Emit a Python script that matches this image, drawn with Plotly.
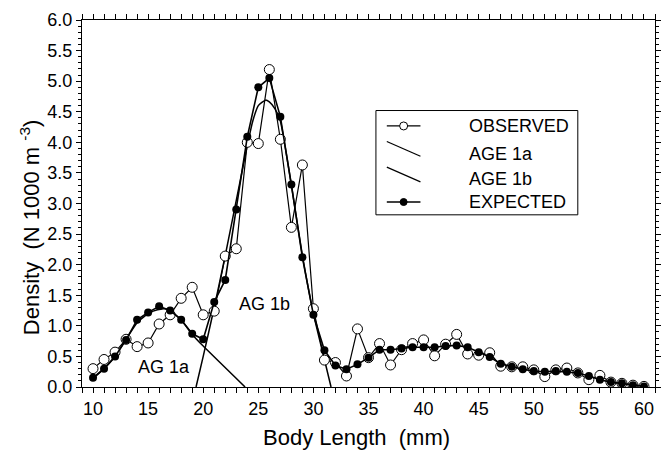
import plotly.graph_objects as go

# ---------------- data ----------------
length_mm = list(range(10, 61))
observed = [0.30, 0.45, 0.57, 0.78, 0.66, 0.72, 1.03, 1.18, 1.45, 1.63,
            1.18, 1.24, 2.14, 2.26, 4.00, 3.98, 5.19, 4.05, 2.61, 3.63,
            1.28, 0.44, 0.40, 0.18, 0.95, 0.48, 0.71, 0.36, 0.61, 0.71,
            0.77, 0.51, 0.70, 0.86, 0.54, 0.52, 0.56, 0.34, 0.33, 0.33,
            0.28, 0.17, 0.28, 0.31, 0.23, 0.12, 0.19, 0.08, 0.06, 0.03,
            0.01]
expected = [0.15, 0.30, 0.50, 0.77, 1.10, 1.22, 1.32, 1.25, 1.10, 0.87,
            0.78, 1.39, 1.75, 2.90, 4.09, 4.90, 5.05, 4.42, 3.31, 2.12,
            1.18, 0.60, 0.35, 0.29, 0.37, 0.48, 0.61, 0.61, 0.63, 0.65,
            0.65, 0.65, 0.67, 0.68, 0.65, 0.57, 0.49, 0.38, 0.33, 0.29,
            0.26, 0.25, 0.26, 0.25, 0.23, 0.18, 0.12, 0.08, 0.06, 0.03,
            0.01]
age1a_x = [10, 11, 12, 13, 14, 15, 16, 16.5, 17, 18, 19, 20, 23.8]
age1a_y = [0.14, 0.30, 0.50, 0.78, 1.05, 1.20, 1.27, 1.28, 1.25, 1.10, 0.86, 0.67, 0.0]
age1b_x = [19.35, 20, 21, 22, 23, 24, 24.5, 25, 25.65, 26, 26.5, 27, 28, 29, 30, 31, 31.6]
age1b_y = [0.0, 0.5, 1.3, 2.15, 3.05, 3.95, 4.35, 4.6, 4.69, 4.66, 4.55, 4.35, 3.3, 2.15, 1.2, 0.45, 0.0]

legend_labels = ["OBSERVED", "AGE 1a", "AGE 1b", "EXPECTED"]
curve_labels = [("AG 1a", 16.4, 0.32), ("AG 1b", 25.6, 1.35)]
x_title = "Body Length&nbsp;&nbsp;(mm)"
y_title = "Density&nbsp;&nbsp;(N 1000 m <sup>-3</sup>)"

# ---------------- layout geometry ----------------
W, H = 671, 456
ML, MR, MT, MB = 82, 10, 14, 69
PW, PH = W - ML - MR, H - MT - MB
FONT = "Arial, Liberation Sans, sans-serif"


def px(xp):
    return (xp - ML) / PW


def py(yp):
    return (H - MB - yp) / PH


fig = go.Figure()

fig.add_trace(go.Scatter(x=age1a_x, y=age1a_y, mode="lines", line=dict(color="black", width=1.5, shape="spline", smoothing=0.5), showlegend=False))
fig.add_trace(go.Scatter(x=age1b_x, y=age1b_y, mode="lines", line=dict(color="black", width=1.5, shape="spline", smoothing=0.5), showlegend=False))
fig.add_trace(go.Scatter(x=length_mm, y=observed, mode="lines+markers",
                         line=dict(color="black", width=1.2),
                         marker=dict(symbol="circle", size=10, color="white", line=dict(color="black", width=1)),
                         showlegend=False))
fig.add_trace(go.Scatter(x=length_mm, y=expected, mode="lines+markers",
                         line=dict(color="black", width=1.6),
                         marker=dict(symbol="circle", size=8, color="black"),
                         showlegend=False))

for txt, cx, cy in curve_labels:
    fig.add_annotation(x=cx, y=cy, text=txt, showarrow=False, font=dict(family=FONT, size=18, color="black"))

# axis titles
fig.add_annotation(xref="paper", yref="paper", x=px(359), y=py(438), text=x_title, showarrow=False,
                   xanchor="center", yanchor="middle", font=dict(family=FONT, size=22, color="black"))
fig.add_annotation(xref="paper", yref="paper", x=px(29), y=py(225), text=y_title, showarrow=False, textangle=-90,
                   xanchor="center", yanchor="middle", font=dict(family=FONT, size=22, color="black"))

# ---------------- custom legend ----------------
shapes = [dict(type="rect", xref="paper", yref="paper", x0=px(379), x1=px(583), y0=py(212), y1=py(106),
               line=dict(color="black", width=1), fillcolor="white", layer="above")]
rows_y = [121.7, 150, 176, 199]
shapes.append(dict(type="line", xref="paper", yref="paper", x0=px(390), x1=px(424), y0=py(rows_y[0]), y1=py(rows_y[0]), line=dict(color="black", width=1.2)))
shapes.append(dict(type="circle", xref="paper", yref="paper", xsizemode="pixel", ysizemode="pixel",
                   xanchor=px(407), yanchor=py(rows_y[0]), x0=-4, x1=4, y0=-4, y1=4,
                   line=dict(color="black", width=1), fillcolor="white"))
shapes.append(dict(type="line", xref="paper", yref="paper", x0=px(390), x1=px(424), y0=py(137.5), y1=py(152.5), line=dict(color="black", width=1.2)))
shapes.append(dict(type="line", xref="paper", yref="paper", x0=px(390), x1=px(424), y0=py(163.5), y1=py(178.5), line=dict(color="black", width=1.2)))
shapes.append(dict(type="line", xref="paper", yref="paper", x0=px(390), x1=px(424), y0=py(rows_y[3]), y1=py(rows_y[3]), line=dict(color="black", width=1.6)))
shapes.append(dict(type="circle", xref="paper", yref="paper", xsizemode="pixel", ysizemode="pixel",
                   xanchor=px(407), yanchor=py(rows_y[3]), x0=-3.5, x1=3.5, y0=-3.5, y1=3.5,
                   line=dict(color="black", width=1), fillcolor="black"))
for lab, ry in zip(legend_labels, rows_y):
    fig.add_annotation(xref="paper", yref="paper", x=px(471), y=py(ry), text=lab, showarrow=False,
                       xanchor="left", yanchor="middle", font=dict(family=FONT, size=18, color="black"))

fig.update_layout(
    width=W, height=H, margin=dict(l=ML, r=MR, t=MT, b=MB),
    paper_bgcolor="white", plot_bgcolor="white",
    font=dict(family=FONT, color="black"),
    shapes=shapes,
    xaxis=dict(range=[9, 61], tickmode="linear", tick0=10, dtick=5,
               ticks="outside", ticklen=5, tickwidth=1, tickcolor="black",
               minor=dict(tickmode="linear", tick0=9, dtick=1, ticks="outside", ticklen=5, tickwidth=1, tickcolor="black"),
               showline=True, linecolor="black", linewidth=1, mirror="allticks",
               showgrid=False, zeroline=False, tickfont=dict(size=18)),
    yaxis=dict(range=[0, 6], tickmode="linear", tick0=0, dtick=0.5, tickformat=".1f",
               ticks="outside", ticklen=5, tickwidth=1, tickcolor="black",
               minor=dict(tickmode="linear", tick0=0, dtick=0.1, ticks="outside", ticklen=3, tickwidth=1, tickcolor="black"),
               showline=True, linecolor="black", linewidth=1, mirror="allticks",
               showgrid=False, zeroline=False, tickfont=dict(size=18)),
)

fig.write_html("out.html")
